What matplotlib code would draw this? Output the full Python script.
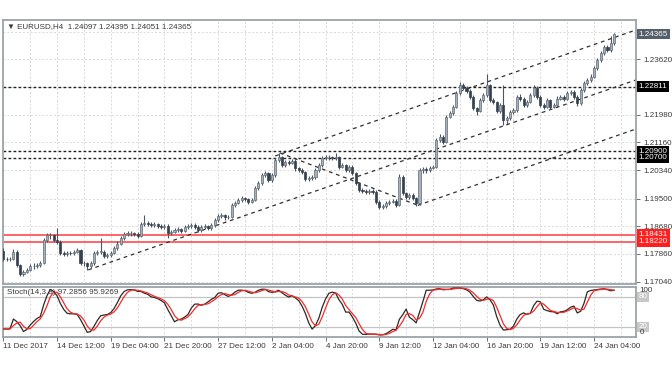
import numpy as np
import pandas as pd
import matplotlib
matplotlib.use('Agg')
import matplotlib.pyplot as plt
import matplotlib.transforms as mtrans

plt.rcParams['font.family'] = ['Liberation Sans', 'DejaVu Sans']

# ---------------- data ----------------
first_open = 1.1796
closes = [
    1.1772, 1.1770, 1.1771, 1.1793, 1.1753, 1.1727, 1.1734, 1.1739, 1.1749, 1.1751,
    1.1754, 1.1758, 1.1827, 1.1842, 1.1842, 1.1827, 1.1822, 1.1788, 1.1786, 1.1790,
    1.1788, 1.1793, 1.1798, 1.1758, 1.1758, 1.1749, 1.1758, 1.1788, 1.1793, 1.1793,
    1.1780, 1.1783, 1.1790, 1.1803, 1.1817, 1.1832, 1.1845, 1.1847, 1.1847, 1.1845,
    1.1839, 1.1875, 1.1879, 1.1875, 1.1872, 1.1875, 1.1869, 1.1865, 1.1870, 1.1847,
    1.1852, 1.1857, 1.1859, 1.1855, 1.1865, 1.1869, 1.1872, 1.1867, 1.1857, 1.1865,
    1.1869, 1.1862, 1.1872, 1.1887, 1.1898, 1.1901, 1.1894, 1.1896, 1.1931, 1.1938,
    1.1946, 1.1951, 1.1948, 1.1941, 1.1946, 1.1980, 1.1995, 1.2020, 1.2025, 1.2005,
    1.2020, 1.2064, 1.2072, 1.2049, 1.2059, 1.2056, 1.2062, 1.2039, 1.2034, 1.2029,
    1.2007, 1.2010, 1.2013, 1.2034, 1.2049, 1.2069, 1.2072, 1.2072, 1.2069, 1.2072,
    1.2044, 1.2049, 1.2034, 1.2044, 1.2025, 1.1995, 1.1975, 1.1973, 1.1970, 1.1973,
    1.1970, 1.1941, 1.1926, 1.1928, 1.1936, 1.1941, 1.1944, 1.1931, 1.2015, 1.1966,
    1.1956, 1.1961, 1.1951, 1.1936, 1.2034, 1.2036, 1.2034, 1.2041, 1.2044, 1.2123,
    1.2133, 1.2118, 1.2192, 1.2202, 1.2222, 1.2261, 1.2286, 1.2278, 1.2268, 1.2251,
    1.2217, 1.2209, 1.2242, 1.2256, 1.2286, 1.2242, 1.2235, 1.2209, 1.2227, 1.2182,
    1.2187, 1.2205, 1.2212, 1.2251, 1.2246, 1.2227, 1.2237, 1.2256, 1.2278, 1.2251,
    1.2227, 1.2222, 1.2242, 1.2222, 1.2227, 1.2246, 1.2251, 1.2246, 1.2261, 1.2266,
    1.2251, 1.2232, 1.2271, 1.2291, 1.2301, 1.2311, 1.2335, 1.2360, 1.2380, 1.2399,
    1.2389, 1.24097, 1.24365]
highs = [
    1.1803, 1.1778, 1.1777, 1.1800, 1.1797, 1.1757, 1.1740, 1.1745, 1.1755, 1.1758,
    1.1760, 1.1765, 1.1832, 1.1848, 1.1849, 1.1846, 1.1862, 1.1826, 1.1795, 1.1796,
    1.1795, 1.1799, 1.1805, 1.1802, 1.1764, 1.1762, 1.1764, 1.1794, 1.1799, 1.1832,
    1.1797, 1.1789, 1.1796, 1.1809, 1.1823, 1.1838, 1.1851, 1.1853, 1.1853, 1.1852,
    1.1850, 1.1881, 1.1900, 1.1884, 1.1880, 1.1881, 1.1879, 1.1874, 1.1876, 1.1874,
    1.1858, 1.1863, 1.1866, 1.1864, 1.1871, 1.1875, 1.1879, 1.1877, 1.1871, 1.1871,
    1.1875, 1.1873, 1.1878, 1.1893, 1.1904, 1.1908, 1.1905, 1.1902, 1.1937, 1.1944,
    1.1952, 1.1958, 1.1956, 1.1952, 1.1952, 1.1986, 1.2001, 1.2026, 1.2032, 1.2029,
    1.2026, 1.2070, 1.2085, 1.2076, 1.2065, 1.2064, 1.2068, 1.2066, 1.2044, 1.2039,
    1.2033, 1.2016, 1.2019, 1.2040, 1.2055, 1.2075, 1.2079, 1.2078, 1.2077, 1.2084,
    1.2076, 1.2055, 1.2053, 1.2050, 1.2048, 1.2029, 1.1999, 1.1981, 1.1979, 1.1979,
    1.1978, 1.1974, 1.1945, 1.1934, 1.1942, 1.1947, 1.1950, 1.1948, 1.2024, 1.2019,
    1.1970, 1.1967, 1.1966, 1.1955, 1.2040, 1.2044, 1.2042, 1.2047, 1.2050, 1.2129,
    1.2140, 1.2137, 1.2198, 1.2209, 1.2228, 1.2267, 1.2296, 1.2292, 1.2283, 1.2273,
    1.2255, 1.2222, 1.2248, 1.2262, 1.2320, 1.2290, 1.2248, 1.2239, 1.2233, 1.2286,
    1.2194, 1.2211, 1.2219, 1.2257, 1.2258, 1.2250, 1.2243, 1.2262, 1.2286, 1.2282,
    1.2255, 1.2233, 1.2248, 1.2246, 1.2233, 1.2252, 1.2257, 1.2256, 1.2267, 1.2272,
    1.2270, 1.2255, 1.2277, 1.2297, 1.2307, 1.2318, 1.2341, 1.2366, 1.2386, 1.2405,
    1.2404, 1.2430, 1.24395]
lows = [
    1.1766, 1.1764, 1.1765, 1.1767, 1.1748, 1.1721, 1.1722, 1.1729, 1.1735, 1.1743,
    1.1745, 1.1748, 1.1755, 1.1822, 1.1830, 1.1821, 1.1816, 1.1782, 1.1780, 1.1781,
    1.1782, 1.1784, 1.1789, 1.1752, 1.1750, 1.1739, 1.1744, 1.1754, 1.1783, 1.1787,
    1.1774, 1.1775, 1.1778, 1.1786, 1.1799, 1.1812, 1.1827, 1.1840, 1.1840, 1.1839,
    1.1833, 1.1835, 1.1870, 1.1869, 1.1866, 1.1867, 1.1863, 1.1859, 1.1860, 1.1833,
    1.1842, 1.1847, 1.1851, 1.1849, 1.1851, 1.1860, 1.1864, 1.1861, 1.1851, 1.1852,
    1.1860, 1.1856, 1.1858, 1.1867, 1.1882, 1.1892, 1.1888, 1.1889, 1.1891, 1.1926,
    1.1933, 1.1941, 1.1942, 1.1935, 1.1936, 1.1942, 1.1975, 1.1990, 1.2014, 1.1999,
    1.2000, 1.2015, 1.2058, 1.2043, 1.2044, 1.2050, 1.2051, 1.2033, 1.2028, 1.2023,
    1.2001, 1.2002, 1.2005, 1.2009, 1.2029, 1.2044, 1.2063, 1.2065, 1.2063, 1.2064,
    1.2038, 1.2039, 1.2028, 1.2029, 1.2019, 1.1989, 1.1969, 1.1967, 1.1964, 1.1964,
    1.1964, 1.1935, 1.1920, 1.1920, 1.1923, 1.1931, 1.1936, 1.1925, 1.1927, 1.1960,
    1.1950, 1.1950, 1.1945, 1.1928, 1.1932, 1.2027, 1.2027, 1.2029, 1.2036, 1.2040,
    1.2117, 1.2112, 1.2114, 1.2187, 1.2197, 1.2218, 1.2256, 1.2272, 1.2262, 1.2245,
    1.2211, 1.2198, 1.2205, 1.2237, 1.2251, 1.2236, 1.2229, 1.2203, 1.2204, 1.2168,
    1.2172, 1.2182, 1.2199, 1.2207, 1.2240, 1.2221, 1.2222, 1.2232, 1.2251, 1.2245,
    1.2221, 1.2216, 1.2218, 1.2216, 1.2217, 1.2222, 1.2241, 1.2240, 1.2241, 1.2256,
    1.2245, 1.2225, 1.2228, 1.2266, 1.2286, 1.2295, 1.2306, 1.2330, 1.2355, 1.2375,
    1.2383, 1.2385, 1.24051]

date_labels = ['11 Dec 2017', '14 Dec 12:00', '19 Dec 04:00', '21 Dec 20:00',
               '27 Dec 12:00', '2 Jan 04:00', '4 Jan 20:00', '9 Jan 12:00',
               '12 Jan 04:00', '16 Jan 20:00', '19 Jan 12:00', '24 Jan 04:00']
bars_per_label = 16

price_ticks = [1.17040, 1.17860, 1.18680, 1.19500, 1.20340, 1.21160, 1.21980, 1.23620]
price_grid = [1.17040, 1.17860, 1.18680, 1.19500, 1.20340, 1.21160, 1.21980,
              1.22800, 1.23620, 1.24440]

black_levels = [1.22811, 1.20900, 1.20700]
red_levels = [1.18431, 1.18220]
last_price = 1.24365

# trend lines: (bar, price) endpoints
trend_lines = [((81.0, 1.2076), (188.5, 1.2449)),
               ((25.3, 1.1739), (188.5, 1.2301)),
               ((123.5, 1.1930), (188.5, 1.2156)),
               ((82.4, 1.2085), (123.3, 1.1931))]

title = '\u25bc EURUSD,H4  1.24097 1.24395 1.24051 1.24365'
stoch_title = 'Stoch(14,3,3) 97.2856 95.9269'
stoch_k, stoch_d, stoch_slow = 14, 3, 3

# ---------------- derived ----------------
opens = [first_open] + closes[:-1]
n = len(closes)
x = np.arange(n)
o = np.array(opens); c = np.array(closes); h = np.array(highs); l = np.array(lows)

df = pd.DataFrame({'h': h, 'l': l, 'c': c})
hh = df['h'].rolling(stoch_k, min_periods=1).max()
ll = df['l'].rolling(stoch_k, min_periods=1).min()
num = (df['c'] - ll).rolling(stoch_slow, min_periods=1).sum()
den = (hh - ll).rolling(stoch_slow, min_periods=1).sum()
main_line = 100 * num / den
signal_line = main_line.rolling(stoch_d, min_periods=1).mean()

# ---------------- figure ----------------
W, H = 672, 372
fig = plt.figure(figsize=(W / 100, H / 100), dpi=100, facecolor='white')

def fx(px): return px / W
def fy(py): return 1 - py / H

ax = fig.add_axes([fx(3), fy(284), fx(636) - fx(3), fy(20) - fy(284)])
axs = fig.add_axes([fx(3), fy(337), fx(636) - fx(3), fy(287) - fy(337)])

xlim = (-0.1, 188.5)
for a in (ax, axs):
    a.set_xlim(*xlim)
    a.set_facecolor('white')
    for s in a.spines.values():
        s.set_color('#9aa3ab')
        s.set_linewidth(1.3)

ax.set_ylim(1.16972, 1.24783)
axs.set_ylim(0, 100)

grid_col = '#d9d9d9'
vgrid = np.arange(8, 189, 8)
for a in (ax, axs):
    for g in vgrid:
        a.axvline(g, color=grid_col, lw=0.7, ls=(0, (2, 2)), zorder=0)
for g in price_grid:
    ax.axhline(g, color=grid_col, lw=0.7, ls=(0, (2, 2)), zorder=0)

# levels
for lv in black_levels:
    ax.axhline(lv, color='#202020', lw=1.0, ls=(0, (2, 1.6)), zorder=1)
for lv in red_levels:
    ax.axhline(lv, color='#ff3b3b', lw=1.1, zorder=1)

# trend lines
for (x0, y0), (x1, y1) in trend_lines:
    ax.plot([x0, x1], [y0, y1], color='#303030', lw=0.9, ls=(0, (3, 3)), zorder=2)

# candles
up = c >= o
bull_fc, bull_ec = '#a8b1ba', '#5f6b77'
bear_fc = '#34414e'
ax.vlines(x, l, h, color='#4b5662', lw=0.8, zorder=3)
body_lo = np.minimum(o, c)
body_h = np.maximum(np.abs(c - o), 0.00008)
ax.bar(x[up], body_h[up], bottom=body_lo[up], width=0.62, color=bull_fc,
       edgecolor=bull_ec, linewidth=0.5, zorder=4)
ax.bar(x[~up], body_h[~up], bottom=body_lo[~up], width=0.62, color=bear_fc,
       edgecolor=bear_fc, linewidth=0.5, zorder=4)

# price axis
ax.yaxis.tick_right()
ax.set_yticks(price_ticks)
ax.set_yticklabels([f'{p:.5f}' for p in price_ticks])
ax.tick_params(axis='y', labelsize=5.8, length=3, width=0.7, color='#707070',
               labelcolor='#3a3a3a', pad=2)
ax.set_xticks([])

def box_label(a, y, text, fc, tc='white'):
    a.text(1.0045, y, text, transform=mtrans.blended_transform_factory(a.transAxes, a.transData),
           ha='left', va='center', fontsize=5.8, color=tc, clip_on=False, zorder=10,
           bbox=dict(boxstyle='square,pad=0.22', fc=fc, ec='none'))

box_label(ax, last_price, f'{last_price:.5f}', '#56606b')
for lv in black_levels:
    box_label(ax, lv, f'{lv:.5f}', 'black')
for lv in red_levels:
    box_label(ax, lv, f'{lv:.5f}', '#ff1f1f')

# stochastic
axs.axhline(80, color='#c4c4c4', lw=0.9, zorder=1)
axs.axhline(20, color='#c4c4c4', lw=0.9, zorder=1)
axs.plot(x, main_line, color='#2a2a2a', lw=0.9, zorder=3)
axs.plot(x, signal_line, color='#ff2626', lw=0.9, zorder=4)
axs.set_yticks([])
tr = mtrans.blended_transform_factory(axs.transAxes, axs.transData)
axs.text(1.0045, 80, '80', transform=tr, ha='left', va='center', fontsize=5.8,
         color='white', clip_on=False, bbox=dict(boxstyle='square,pad=0.2', fc='#c8c8c8', ec='none'))
axs.text(1.0045, 20, '20', transform=tr, ha='left', va='center', fontsize=5.8,
         color='white', clip_on=False, bbox=dict(boxstyle='square,pad=0.2', fc='#c8c8c8', ec='none'))
axs.text(1.006, 99, '100', transform=tr, ha='left', va='top', fontsize=5.8,
         color='#3a3a3a', clip_on=False, zorder=10)
axs.text(1.006, 2, '0', transform=tr, ha='left', va='bottom', fontsize=5.8,
         color='#3a3a3a', clip_on=False, zorder=10)

tick_pos = [bars_per_label * k for k in range(len(date_labels))]
axs.set_xticks(tick_pos)
axs.set_xticklabels(date_labels)
for lab in axs.get_xticklabels():
    lab.set_horizontalalignment('left')
axs.tick_params(axis='x', labelsize=5.8, length=3, width=0.7, color='#707070',
                labelcolor='#3a3a3a', pad=1.5)

fig.text(fx(7), fy(27), title, fontsize=5.8, color='#3a3a3a', va='center', ha='left')
fig.text(fx(7), fy(293), stoch_title, fontsize=5.8, color='#3a3a3a', va='center', ha='left')

fig.savefig('out.png', dpi=100, facecolor='white')
